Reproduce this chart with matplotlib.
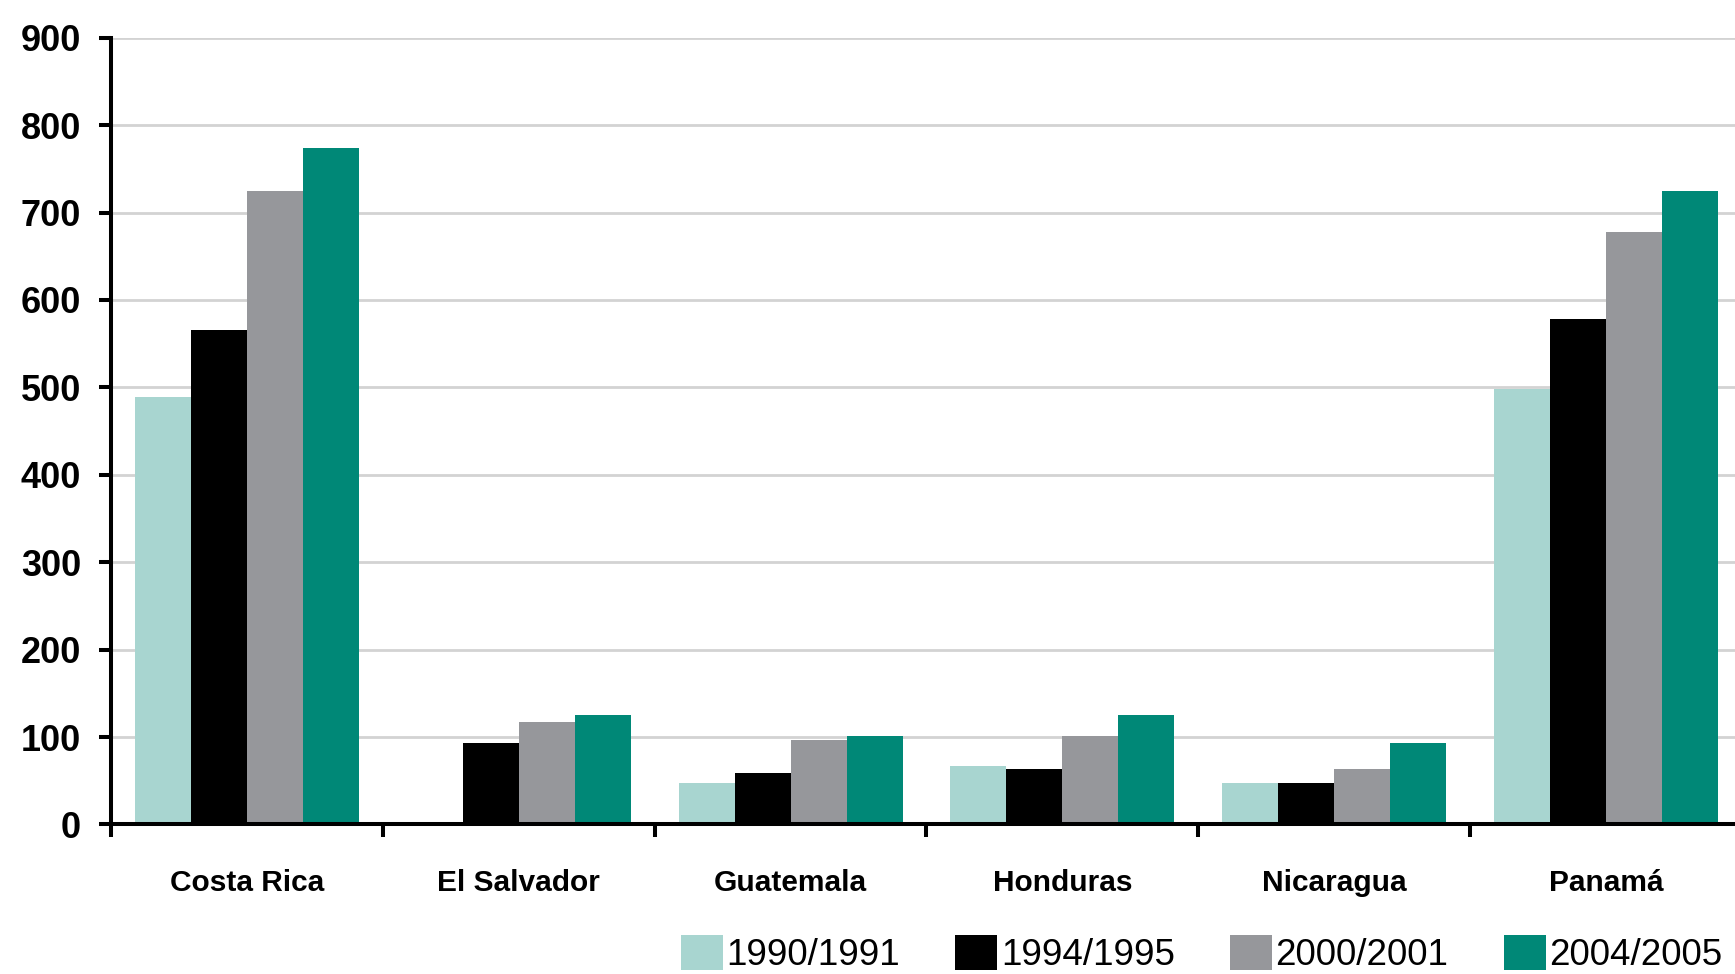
import numpy as np
import matplotlib
matplotlib.use('Agg')
import matplotlib.pyplot as plt

plt.rcParams['font.family'] = ['Liberation Sans', 'DejaVu Sans']

paises = ['Costa Rica', 'El Salvador', 'Guatemala', 'Honduras', 'Nicaragua', 'Panamá']
periodos = ['1990/1991', '1994/1995', '2000/2001', '2004/2005']
v_1990 = [489, np.nan, 48, 67, 48, 498]
v_1994 = [566, 93, 59, 64, 48, 578]
v_2000 = [725, 117, 97, 101, 64, 678]
v_2004 = [774, 125, 101, 125, 93, 725]
y_ticks = [0, 100, 200, 300, 400, 500, 600, 700, 800, 900]

colores = ['#A8D5D0', '#000000', '#96979B', '#008877']
series = [v_1990, v_1994, v_2000, v_2004]

fig = plt.figure(figsize=(17.35, 9.74), dpi=100)
ax = fig.add_axes([0.064, 0.1535, 0.940, 0.8078])

x = np.arange(len(paises))
ancho = 0.206
for i in range(len(series)):
    ax.bar(x + (i - 1.5) * ancho, series[i], ancho, color=colores[i],
           label=periodos[i], linewidth=0)

ax.set_xlim(-0.5, len(paises) - 0.5)
ax.set_ylim(0, 900)
ax.set_yticks(y_ticks)
ax.set_axisbelow(True)
ax.grid(axis='y', color='#D3D3D3', linewidth=2)

for s in ['top', 'right']:
    ax.spines[s].set_visible(False)
for s in ['left', 'bottom']:
    ax.spines[s].set_linewidth(2.9)

# ticks mayores en los limites de cada pais, etiquetas en el centro
ax.set_xticks(np.arange(len(paises) + 1) - 0.5)
ax.set_xticklabels([])
ax.set_xticks(x, minor=True)
ax.set_xticklabels(paises, minor=True, fontsize=21.5, fontweight='bold')
ax.tick_params(axis='x', which='major', direction='out', length=9.5, width=2.9)
ax.tick_params(axis='x', which='minor', length=0, pad=32)
ax.tick_params(axis='y', direction='out', length=8.6, width=2.9, pad=13,
               labelsize=26)
for t in ax.get_yticklabels():
    t.set_fontweight('bold')

fig.legend(loc='center', bbox_to_anchor=(0.6925, 0.0205), ncol=4, frameon=False,
           fontsize=26.5, handlelength=1.14, handleheight=1.09, handletextpad=0.1,
           columnspacing=1.5, borderpad=0)

plt.savefig('out.png', dpi=100)
